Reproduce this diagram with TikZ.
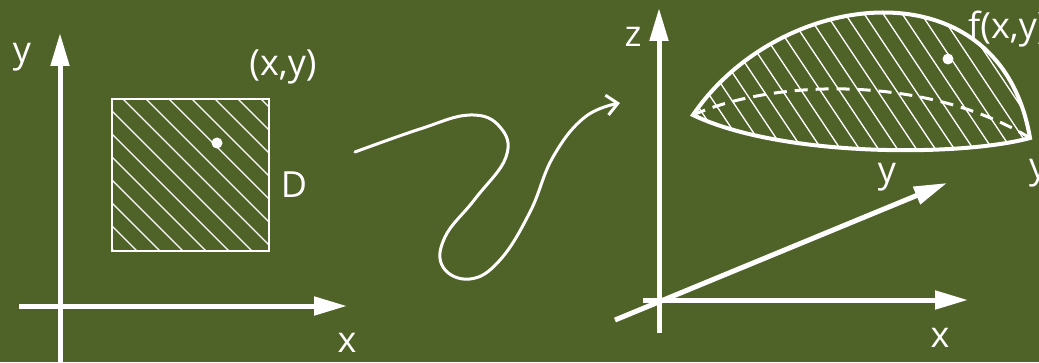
\documentclass[tikz,border=0pt]{standalone}
\usepackage{fontspec}
\setmainfont{Open Sans}
\usetikzlibrary{arrows.meta}
\definecolor{board}{RGB}{79,98,40}
\tikzset{
  axis/.style={white, line width=5pt, -{Triangle[length=33pt,width=18pt]}},
  hatchline/.style={white, line width=1.3pt},
  lbl/.style={white, font=\fontsize{36}{38}\selectfont, inner sep=0pt}
}
\begin{document}
\begin{tikzpicture}[x=1pt,y=1pt]

				% Background
				\fill[board] (0,0) rectangle (1039,362);
				\useasboundingbox (0,0) rectangle (1039,362);

				% Plane
				\coordinate (yb) at (60,0);
				\coordinate (yt) at (60,329);
				\coordinate (xl) at (19,56);
				\coordinate (xr) at (347,56);
				\coordinate (d1) at (112,111);
				\coordinate (d2) at (269,263);
				\coordinate (p) at (217,219);

				\draw[axis] (yb) -- (yt);
				\draw[axis] (xl) -- (xr);

				\begin{scope}
				\clip (d1) rectangle (d2);
				\foreach \k in {-1,...,13}
				\draw[hatchline] (137+23*\k-170,281) -- (137+23*\k+10,101);
				\end{scope}
				\draw[white, line width=2.5pt] (d1) rectangle (d2);
				\fill[white] (p) circle (5.5pt);

				\node[lbl] (ylabel) at (22,305) {y};
				\node[lbl] (xlabel) at (347,19) {x};
				\node[lbl] (dlabel) at (294,177) {D};
				\node[lbl] (plabel) at (283,295) {(x,y)};

				% Map
				\draw[white, line width=3pt, line cap=round, -{Straight Barb[length=11pt,width=20pt]}]
				plot[smooth, tension=0.7] coordinates {(355,210) (420,233) (470,247) (500,235) (506,205) (475,163) (445,125) (443,95) (470,83) (500,102) (530,150) (553,205) (585,245) (620,259)};

				% Space
				\coordinate (zb) at (659,29);
				\coordinate (zt) at (659,354);
				\coordinate (Xl) at (643,62);
				\coordinate (Xr) at (968,62);
				\coordinate (Yl) at (615,42);
				\coordinate (Yr) at (947,179);
				\coordinate (L) at (693,247);
				\coordinate (R) at (1030,224);
				\coordinate (q) at (948,303);

				\draw[axis] (zb) -- (zt);
				\draw[axis] (Xl) -- (Xr);
				\draw[axis] (Yl) -- (Yr);

				\begin{scope}
				\clip (L) .. controls (780,375) and (1000,400) .. (R) .. controls (960,205) and (780,205) .. (L);
				\foreach \x in {600,619,...,1100}
				\draw[hatchline] (\x-80,380) -- (\x+80,140);
				\end{scope}
				\draw[white, line width=3pt, dashed, dash pattern=on 13pt off 8pt] (L) .. controls (780,285) and (930,285) .. (R);
				\draw[white, line width=4pt, line join=miter] (L) .. controls (780,375) and (1000,400) .. (R) .. controls (960,205) and (780,205) .. cycle;
				\fill[white] (q) circle (5.5pt);

				\node[lbl] (zlabel) at (633,325) {z};
				\node[lbl] (Xlabel) at (940,24) {x};
				\node[lbl] (Ylabel) at (887,185) {y};
				\node[lbl, anchor=west] (Ylabel2) at (1029,189) {y};
				\node[lbl, anchor=west] (flabel) at (968,333) {f(x,y)};

\end{tikzpicture}
\end{document}
